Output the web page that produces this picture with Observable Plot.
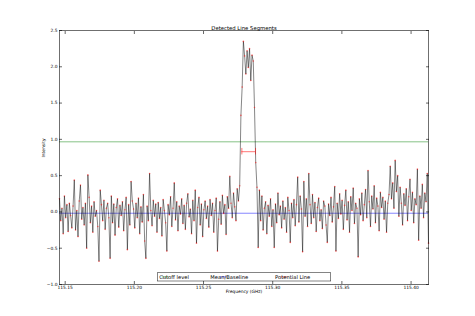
<!DOCTYPE html>
<html>
<head>
<meta charset="utf-8">
<script src="https://cdn.jsdelivr.net/npm/d3@7"></script>
<script src="https://cdn.jsdelivr.net/npm/@observablehq/plot@0.6"></script>
<style>
  html, body { margin: 0; padding: 0; background: #ffffff; }
  #chart { width: 475px; height: 316px; }
</style>
</head>
<body>
<div id="chart"></div>
<script>
// ---- data ----
const freqStart = 115.1459;   // GHz, first channel
const freqEnd = 115.4126;     // GHz, last channel
const intensity = [
  0.18, -0.12, 0.05, -0.30, 0.22, -0.08, 0.10, -0.27, 0.12, -0.05, -0.22, 0.08, 0.44, -0.25, 0.02, -0.34, 0.15, 0.37, -0.10, 0.06,
  -0.18, 0.12, -0.50, 0.51, 0.20, -0.15, 0.08, -0.28, 0.14, -0.06, 0.02, -0.20, -0.68, 0.30, 0.10, -0.12, 0.16, -0.24, 0.05, 0.12,
  -0.08, -0.64, 0.22, -0.15, 0.11, -0.32, 0.06, 0.18, -0.21, 0.09, -0.05, 0.14, -0.26, 0.03, 0.20, -0.52, 0.10, -0.18, 0.42, 0.15,
  0.04, -0.22, 0.12, -0.08, 0.19, -0.30, 0.07, -0.14, 0.24, -0.40, -0.64, 0.08, -0.12, 0.53, 0.02, -0.19, 0.16, -0.06, 0.11, -0.28,
  0.13, -0.09, 0.06, -0.33, 0.17, 0.02, -0.15, -0.54, 0.10, -0.04, 0.21, -0.20, 0.05, 0.40, -0.11, 0.14, -0.26, 0.08, -0.03, 0.18,
  -0.16, 0.09, -0.24, 0.12, 0.25, -0.07, 0.04, -0.30, 0.16, -0.12, 0.30, -0.43, 0.06, 0.20, -0.18, 0.11, -0.34, 0.03, 0.15, -0.09,
  0.08, -0.21, 0.17, -0.05, 0.12, -0.28, 0.02, 0.19, -0.54, -0.10, 0.14, -0.17, 0.23, -0.02, 0.10, -0.31, 0.21, 0.05, 0.49, 0.12,
  -0.08, 0.26, 0.07, -0.12, 0.32, 0.15, 0.36, 1.33, 1.72, 2.35, 2.15, 1.90, 2.22, 1.99, 2.25, 1.81, 2.16, 2.08, 1.44, 0.68,
  0.34, -0.49, 0.30, -0.12, 0.22, -0.25, 0.05, 0.14, -0.30, 0.09, -0.06, 0.18, -0.20, 0.03, -0.49, 0.11, -0.15, 0.26, -0.04, 0.08,
  -0.22, 0.15, -0.10, 0.06, -0.28, 0.20, 0.02, -0.42, 0.12, -0.08, 0.17, -0.19, 0.10, 0.48, -0.14, 0.22, 0.04, -0.55, 0.42, -0.06,
  0.18, -0.20, 0.53, 0.10, -0.16, 0.24, -0.08, 0.13, -0.27, 0.06, 0.19, -0.12, 0.03, -0.23, 0.15, 0.08, -0.18, -0.42, 0.11, -0.05,
  0.20, -0.14, 0.07, 0.35, -0.54, 0.12, -0.09, 0.25, -0.03, 0.16, -0.24, 0.09, 0.30, -0.11, 0.14, -0.28, 0.21, 0.02, 0.33, -0.16,
  0.12, 0.05, -0.62, 0.18, -0.04, 0.26, -0.12, 0.10, 0.31, -0.08, 0.57, 0.14, -0.20, 0.22, 0.04, 0.36, -0.15, 0.19, 0.08, -0.26,
  0.27, 0.06, 0.20, -0.10, 0.15, -0.28, 0.12, 0.24, 0.63, 0.18, 0.40, 0.05, 0.71, 0.28, 0.50, -0.06, 0.34, 0.12, -0.18, 0.25,
  0.09, 0.32, -0.12, 0.21, 0.45, 0.02, 0.27, -0.15, 0.18, 0.10, 0.59, -0.39, 0.22, 0.05, 0.38, -0.08, 0.26, 0.14, 0.53, -0.43
];
const cutoffLevel = 0.966;     // "Cutoff level"
const baselineLevel = -0.018;  // "Mean/Baseline"
const lineStart = 115.2777;    // "Potential Line" segment
const lineEnd = 115.2876;
const lineLevel = 0.83;
const xTicks = [115.15, 115.20, 115.25, 115.30, 115.35, 115.40];
const yTicks = [-1.0, -0.5, 0.0, 0.5, 1.0, 1.5, 2.0, 2.5];
const titleText = "Detected Line Segments";
const xLabel = "Frequency (GHz)";
const yLabel = "Intensity";
const legendLabels = ["Cutoff level", "Mean/Baseline", "Potential Line"];
const legendColors = ["#008000", "#0000ff", "#ff0000"];

// ---- build table ----
const n = intensity.length;
const step = (freqEnd - freqStart) / (n - 1);
const spectrum = intensity.map((v, i) => ({freq: freqStart + i * step, value: v}));
const segment = [{x1: lineStart, x2: lineEnd, y: lineLevel}];
const caps = [
  {x: lineStart, y1: lineLevel - 0.045, y2: lineLevel + 0.045},
  {x: lineEnd, y1: lineLevel - 0.045, y2: lineLevel + 0.045}
];

const fmtY = d3.format(".1f");
const fmtX = d3.format(".2f");

const plot = Plot.plot({
  width: 475,
  height: 316,
  marginLeft: 59,
  marginRight: 47,
  marginTop: 30,
  marginBottom: 32,
  style: {fontFamily: "DejaVu Sans", fontSize: "4.4px", background: "#ffffff", color: "#000"},
  x: {domain: [freqStart, freqEnd]},
  y: {domain: [-1, 2.5]},
  marks: [
    Plot.ruleY([cutoffLevel], {stroke: legendColors[0], strokeWidth: 0.8, strokeOpacity: 0.6}),
    Plot.ruleY([baselineLevel], {stroke: legendColors[1], strokeWidth: 0.8, strokeOpacity: 0.6}),
    Plot.line(spectrum, {x: "freq", y: "value", stroke: "#000", strokeWidth: 0.8, strokeOpacity: 0.6}),
    Plot.dot(spectrum, {x: "freq", y: "value", r: 0.8, fill: "#ff0000", fillOpacity: 0.55, stroke: "none"}),
    Plot.ruleY(segment, {x1: "x1", x2: "x2", y: "y", stroke: legendColors[2], strokeWidth: 0.9, strokeOpacity: 0.6}),
    Plot.ruleX(caps, {x: "x", y1: "y1", y2: "y2", stroke: legendColors[2], strokeWidth: 0.9, strokeOpacity: 0.6}),
    Plot.frame({stroke: "#000", strokeWidth: 0.8, strokeOpacity: 0.7}),
    Plot.axisY(yTicks, {anchor: "left", tickSize: -3, tickPadding: 5, tickFormat: fmtY, label: null, strokeWidth: 0.6}),
    Plot.axisY(yTicks, {anchor: "right", tickSize: -3, tickFormat: () => "", label: null, strokeWidth: 0.6}),
    Plot.axisX(xTicks, {anchor: "bottom", tickSize: -3, tickPadding: 4, tickFormat: fmtX, label: null, strokeWidth: 0.6}),
    Plot.axisX(xTicks, {anchor: "top", tickSize: -3, tickFormat: () => "", label: null, strokeWidth: 0.6}),
    Plot.text([titleText], {frameAnchor: "top", dy: -4.5, fontSize: 5.3, fill: "#000"}),
    Plot.text([xLabel], {frameAnchor: "bottom", dy: 8.7, fontSize: 4.4, fill: "#000"}),
    Plot.text([yLabel], {frameAnchor: "left", dx: -16, rotate: -90, fontSize: 4.4, fill: "#000"})
  ]
});

document.getElementById("chart").appendChild(plot);

// ---- legend (lower center, inside the frame) ----
const svg = d3.select(plot);
const lg = svg.append("g").attr("font-family", "DejaVu Sans").attr("font-size", 5.2);
lg.append("rect").attr("x", 157.3).attr("y", 272.7).attr("width", 173.4).attr("height", 8.3)
  .attr("fill", "#fff").attr("stroke", "#000").attr("stroke-width", 0.6).attr("stroke-opacity", 0.8);
const sampleX = [161.7, 220.0, 280.7];
const textX = [174.0, 229.3, 292.7];
legendLabels.forEach((lab, i) => {
  lg.append("line").attr("x1", sampleX[i]).attr("x2", sampleX[i] + 6.7).attr("y1", 276.9).attr("y2", 276.9)
    .attr("stroke", legendColors[i]).attr("stroke-width", 0.8).attr("stroke-opacity", 0.6);
  lg.append("text").attr("x", textX[i]).attr("y", 276.9).attr("dy", "0.35em").attr("fill", "#000").text(lab);
});
</script>
</body>
</html>
